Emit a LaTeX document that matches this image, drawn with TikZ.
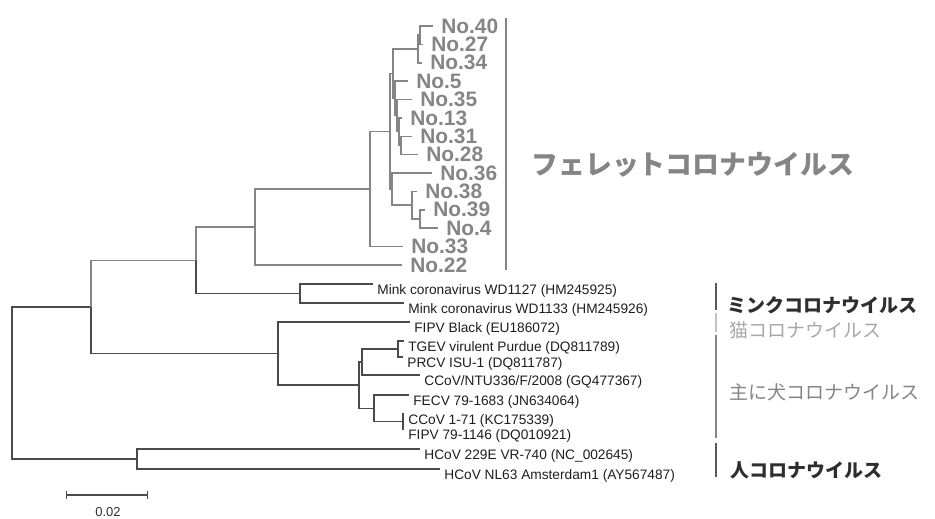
\documentclass[tikz,border=0pt]{standalone}
\usepackage{fontspec}
\setmainfont{Liberation Sans}
\newfontfamily\jpfont{Noto Sans CJK JP}
\usetikzlibrary{arrows.meta,positioning}
\definecolor{ferret}{HTML}{858585}
\definecolor{branch}{HTML}{4A4A4A}
\definecolor{tiptext}{HTML}{1E1E1E}
\definecolor{catgray}{HTML}{A8A8A8}
\definecolor{doggray}{HTML}{858585}
\definecolor{darkgroup}{HTML}{2E2E2E}
\begin{document}
\begin{tikzpicture}[
  x=0.02cm, y=-0.02cm,
  br/.style={draw=branch, line width=0.8pt},
  fbr/.style={draw=ferret, line width=0.9pt},
  tip/.style={anchor=base west, inner sep=0pt, text=tiptext,
              font=\fontsize{7.8}{9}\selectfont},
  ftip/.style={anchor=west, inner sep=0pt, text=ferret,
               font=\fontsize{11.9}{14}\selectfont\bfseries},
  grp/.style={anchor=west, inner sep=0pt,
              font=\jpfont\fontsize{10.8}{13}\selectfont},
  bar/.style={line width=1pt}
]
\useasboundingbox (0,0) rectangle (935,519);

% ferret tips
\foreach \n/\x/\y in {40/433/26, 27/423/44.4, 34/422/62.8, 5/408/81.1,
                      35/412/99.5, 13/402/117.9, 31/412/136.3, 28/418/154.7,
                      36/432/173, 38/417/191.4, 39/425/209.8, 4/438/228.2,
                      33/403/246.6, 22/402/265}{
  \coordinate (t\n) at (\x,\y);
  \node[ftip, right=4.5pt of t\n] (l\n) {No.\n};
}

% ferret clade
\coordinate (V) at (420,35.2);
\coordinate (K) at (418,49);
\coordinate (S) at (401,145.5);
\coordinate (R) at (399,131.7);
\coordinate (Q) at (397,115.6);
\coordinate (P) at (395,98.4);
\coordinate (J) at (393,73.7);
\coordinate (U) at (420,219);
\coordinate (T) at (412,205.2);
\coordinate (H) at (392,189.1);
\coordinate (I) at (390,131.4);
\coordinate (D) at (370,189);
\coordinate (C) at (255,227);

\foreach \p/\c in {V/t40, V/t27, K/V, K/t34, S/t31, S/t28, R/t13, R/S,
                   Q/t35, Q/R, P/t5, P/Q, J/K, J/P, U/t39, U/t4, T/t38, T/U,
                   H/t36, H/T, I/J, I/H, D/I, D/t33, C/D, C/t22}
  \draw[fbr] (\p) |- (\c);

% other tips
\coordinate (tm1) at (373,284);
\coordinate (tm2) at (404,303);
\coordinate (tFB) at (410,322);
\coordinate (tTG) at (404,341);
\coordinate (tPR) at (403,357);
\coordinate (tNT) at (420,375);
\coordinate (tFE) at (409,395);
\coordinate (tC1) at (404,414);
\coordinate (tF7) at (404,429);
\coordinate (tH1) at (420,449);
\coordinate (tH2) at (440,469);

\node[tip] (lm1) at ([shift={(4,10.5)}]tm1) {Mink coronavirus WD1127 (HM245925)};
\node[tip] (lm2) at ([shift={(4,10.5)}]tm2) {Mink coronavirus WD1133 (HM245926)};
\node[tip] (lFB) at ([shift={(4,10.5)}]tFB) {FIPV Black (EU186072)};
\node[tip] (lTG) at ([shift={(4,10.5)}]tTG) {TGEV virulent Purdue (DQ811789)};
\node[tip] (lPR) at ([shift={(4,10.5)}]tPR) {PRCV ISU-1 (DQ811787)};
\node[tip] (lNT) at ([shift={(4,10.5)}]tNT) {CCoV/NTU336/F/2008 (GQ477367)};
\node[tip] (lFE) at ([shift={(4,10.5)}]tFE) {FECV 79-1683 (JN634064)};
\node[tip] (lC1) at ([shift={(4,10.5)}]tC1) {CCoV 1-71 (KC175339)};
\node[tip] (lF7) at ([shift={(4,10.5)}]tF7) {FIPV 79-1146 (DQ010921)};
\node[tip] (lH1) at ([shift={(4,10.5)}]tH1) {HCoV 229E VR-740 (NC\_002645)};
\node[tip] (lH2) at ([shift={(4,10.5)}]tH2) {HCoV NL63 Amsterdam1 (AY567487)};

% backbone
\coordinate (Mk) at (300,293.5);
\coordinate (B) at (196,260.3);
\coordinate (TP) at (398,349);
\coordinate (G) at (362,362);
\coordinate (O) at (403,421.5);
\coordinate (N) at (374,408.3);
\coordinate (F) at (359,385.1);
\coordinate (E) at (278,353.6);
\coordinate (A) at (91,306.9);
\coordinate (HC) at (137,459);
\coordinate (root) at (12,383);

\foreach \p/\c in {Mk/tm1, Mk/tm2, TP/tTG, TP/tPR, G/TP, G/tNT, O/tC1, O/tF7,
                   N/tFE, N/O, F/G, F/N, E/tFB, E/F, A/E, HC/tH1, HC/tH2,
                   root/A, root/HC, B/Mk}
  \draw[br] (\p) |- (\c);
\draw[fbr] (A) |- (B);
\draw[fbr] (B) |- (C);

% group bars and names
\coordinate (fb1) at (506,18);  \coordinate (fb2) at (506,270);
\coordinate (mb1) at (716,283); \coordinate (mb2) at (716,310);
\coordinate (cb1) at (716,313); \coordinate (cb2) at (716,332);
\coordinate (db1) at (716,335); \coordinate (db2) at (716,438);
\coordinate (hb1) at (716,443); \coordinate (hb2) at (716,477);
\draw[bar, ferret] (fb1) -- (fb2);
\draw[bar, darkgroup!80] (mb1) -- (mb2);
\draw[bar, catgray!70] (cb1) -- (cb2);
\draw[bar, doggray] (db1) -- (db2);
\draw[bar, darkgroup!80] (hb1) -- (hb2);

\node[grp, text=ferret, font=\jpfont\fontsize{15.3}{18}\selectfont\bfseries]
  (gF) at (531,165) {フェレットコロナウイルス};
\node[grp, text=darkgroup, font=\jpfont\fontsize{10.8}{13}\selectfont\bfseries]
  (gM) at (727,305) {ミンクコロナウイルス};
\node[grp, text=catgray] (gC) at (729,330) {猫コロナウイルス};
\node[grp, text=doggray] (gD) at (729,392) {主に犬コロナウイルス};
\node[grp, text=darkgroup, font=\jpfont\fontsize{10.8}{13}\selectfont\bfseries]
  (gH) at (730,470) {人コロナウイルス};

% scale bar
\coordinate (sb1) at (66,495);
\coordinate (sb2) at (148,495);
\draw[br, {Bar[width=4pt]}-{Bar[width=4pt]}] (sb1) -- (sb2);
\node[inner sep=0pt, text=darkgroup, font=\fontsize{7.4}{9}\selectfont]
  (sbl) at (108,512) {0.02};
\end{tikzpicture}
\end{document}
